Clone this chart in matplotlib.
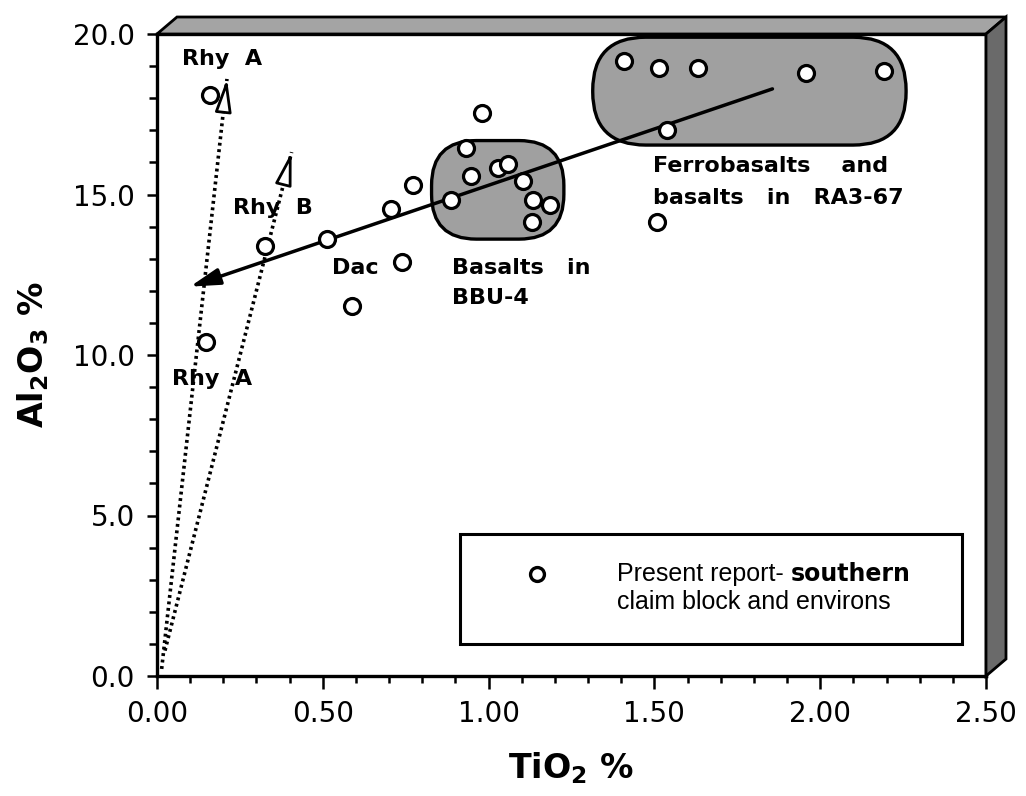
import numpy as np
import matplotlib
matplotlib.use("Agg")
import matplotlib.pyplot as plt
from matplotlib.patches import FancyBboxPatch, Polygon, Rectangle
from matplotlib.ticker import MultipleLocator, FormatStrFormatter

# samples, present report - southern claim block and environs
tio2 = [0.160, 0.326, 0.513, 0.705, 0.773, 0.738, 0.588, 0.148, 0.979, 0.932,
        0.946, 1.029, 1.059, 1.103, 0.886, 1.135, 1.185, 1.130, 1.409, 1.515,
        1.632, 1.957, 2.192, 1.539, 1.509]
al2o3 = [18.10, 13.40, 13.61, 14.55, 15.30, 12.91, 11.53, 10.40, 17.53, 16.44,
         15.57, 15.83, 15.94, 15.42, 14.82, 14.84, 14.67, 14.15, 19.15, 18.93,
         18.93, 18.78, 18.86, 17.01, 14.15]

# shaded fields: x0, x1, y0, y1
bbu_field = [0.828, 1.227, 13.61, 16.68]
ra3_field = [1.314, 2.259, 16.54, 19.90]

# basalt trend (start -> arrow tip)
trend_x = [1.856, 0.0995]
trend_y = [18.29, 12.13]

# rhyolite trends (origin -> open arrow tip)
rhyA_x = [0.014, 0.211]
rhyA_y = [0.22, 18.60]
rhyB_x = [0.024, 0.406]
rhyB_y = [0.79, 16.32]

x_ticks = [0.0, 0.5, 1.0, 1.5, 2.0, 2.5]
y_ticks = [0.0, 5.0, 10.0, 15.0, 20.0]

plt.rcParams['font.family'] = ['DejaVu Sans']
plt.rcParams['mathtext.fontset'] = 'dejavusans'

fig = plt.figure(figsize=(10.26, 7.96), dpi=100)
ax = fig.add_axes([157 / 1026, 1 - 676 / 796, 829 / 1026, 642 / 796])
ax.set_xlim(0, 2.5)
ax.set_ylim(0, 20)

# pixel aspect so the rounded fields keep round corners
pos = ax.get_position()
w_px = pos.width * fig.get_figwidth() * fig.dpi
h_px = pos.height * fig.get_figheight() * fig.dpi
aspect = (20 / h_px) / (2.5 / w_px)


def field(f, r):
    p = FancyBboxPatch((f[0], f[2]), f[1] - f[0], f[3] - f[2],
                       boxstyle="round,pad=0,rounding_size=%f" % r,
                       mutation_aspect=aspect, facecolor='#a0a0a0',
                       edgecolor='black', lw=2.4, zorder=1)
    ax.add_patch(p)


field(bbu_field, 0.135)
field(ra3_field, 0.160)

# dotted rhyolite lines with open heads
for lx, ly in [(rhyA_x, rhyA_y), (rhyB_x, rhyB_y)]:
    ax.plot(lx, ly, color='black', lw=2.6, linestyle=(0, (0.8, 1.0)),
            zorder=2)
    bx = lx[1] - (lx[1] - lx[0]) * 0.02
    by = ly[1] - (ly[1] - ly[0]) * 0.02
    ax.annotate('', xy=(lx[1], ly[1]), xytext=(bx, by),
                arrowprops=dict(arrowstyle='-|>,head_length=2.0,head_width=0.5',
                                fc='white', ec='black', lw=2.0,
                                shrinkA=0, shrinkB=0), zorder=3)

# basalt trend arrow
ax.annotate('', xy=(trend_x[1], trend_y[1]), xytext=(trend_x[0], trend_y[0]),
            arrowprops=dict(arrowstyle='-|>,head_length=1.8,head_width=0.5',
                            fc='black', ec='black', lw=2.5,
                            shrinkA=0, shrinkB=0), zorder=3)

ax.plot(tio2, al2o3, 'o', ms=11.5, mfc='white', mec='black', mew=2.3,
        zorder=4, clip_on=False)

lab = dict(fontsize=16, fontweight='bold', va='baseline', ha='left')
ax.text(0.075, 19.03, 'Rhy  A', **lab)
ax.text(0.229, 14.39, 'Rhy  B', **lab)
ax.text(0.045, 9.07, 'Rhy  A', **lab)
ax.text(0.528, 12.52, 'Dac', **lab)
ax.text(0.889, 12.52, 'Basalts   in', **lab)
ax.text(0.889, 11.59, 'BBU-4', **lab)
ax.text(1.495, 15.70, 'Ferrobasalts    and', **lab)
ax.text(1.495, 14.70, 'basalts   in   RA3-67', **lab)

# legend box
ax.add_patch(Rectangle((0.365, 0.05), 0.606, 0.171, transform=ax.transAxes,
                       facecolor='white', edgecolor='black', lw=2.2, zorder=5))
ax.plot([0.458], [0.159], 'o', transform=ax.transAxes, ms=10, mfc='white',
        mec='black', mew=2.4, zorder=6)
t1 = ax.text(0.555, 0.148, 'Present report- ', transform=ax.transAxes,
             fontsize=18, family='Liberation Sans', va='baseline', ha='left',
             zorder=6)
ax.annotate('southern', xy=(1, 0), xycoords=t1, va='bottom', ha='left',
            fontsize=17, fontweight='bold', zorder=6)
ax.text(0.555, 0.104, 'claim block and environs', transform=ax.transAxes,
        fontsize=18, family='Liberation Sans', va='baseline', ha='left',
        zorder=6)

# axes
ax.set_xticks(x_ticks)
ax.set_yticks(y_ticks)
ax.xaxis.set_minor_locator(MultipleLocator(0.1))
ax.yaxis.set_minor_locator(MultipleLocator(1.0))
ax.xaxis.set_major_formatter(FormatStrFormatter('%.2f'))
ax.yaxis.set_major_formatter(FormatStrFormatter('%.1f'))
ax.tick_params(axis='x', which='major', direction='out', length=9, width=1.8,
               labelsize=20, pad=8)
ax.tick_params(axis='x', which='minor', direction='out', length=5, width=1.8)
ax.tick_params(axis='y', which='major', direction='out', length=7, width=1.8,
               labelsize=20, pad=9)
ax.tick_params(axis='y', which='minor', direction='out', length=6, width=1.8)
for s in ax.spines.values():
    s.set_linewidth(2.4)

ax.set_xlabel(r'TiO$_\mathbf{2}$ %', fontsize=24, fontweight='bold', labelpad=16)
ax.set_ylabel(r'Al$_\mathbf{2}$O$_\mathbf{3}$ %', fontsize=24,
              fontweight='bold', labelpad=16)

# 3d frame: top and right faces
dx = 20 / 1026
dy = 17 / 796
x0, y0, x1, y1 = pos.x0, pos.y0, pos.x1, pos.y1
top = Polygon([(x0, y1), (x1, y1), (x1 + dx, y1 + dy), (x0 + dx, y1 + dy)],
              closed=True, transform=fig.transFigure, facecolor='#a4a4a4',
              edgecolor='black', lw=2.0, zorder=1)
right = Polygon([(x1, y0), (x1 + dx, y0 + dy), (x1 + dx, y1 + dy), (x1, y1)],
                closed=True, transform=fig.transFigure, facecolor='#6a6a6a',
                edgecolor='black', lw=2.0, zorder=1)
fig.add_artist(top)
fig.add_artist(right)

fig.savefig('out.png', dpi=100)
